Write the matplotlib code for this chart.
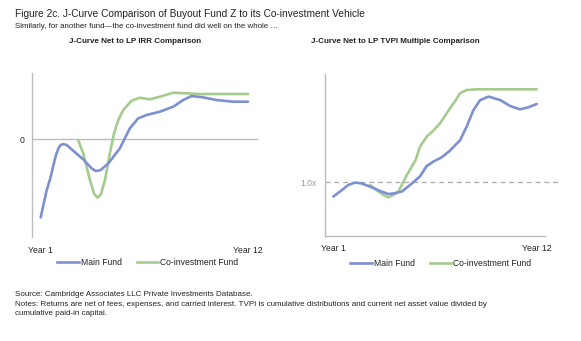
import matplotlib
matplotlib.use("Agg")
import matplotlib.pyplot as plt
from matplotlib.lines import Line2D

plt.rcParams['font.family'] = ['Liberation Sans', 'DejaVu Sans']

# ---- data ----
irr_main_x = [1.00, 1.32, 1.50, 1.80, 1.94, 2.06, 2.20, 2.38, 2.64, 3.26, 3.70, 3.93, 4.18, 4.59,
              5.20, 5.73, 6.17, 6.61, 7.32, 8.03, 8.56, 9.00, 9.62, 10.32, 11.21, 12.00]
irr_main_y = [-2.35, -1.53, -1.20, -0.50, -0.28, -0.18, -0.15, -0.18, -0.31, -0.61, -0.88, -0.96, -0.93, -0.73,
              -0.28, 0.32, 0.62, 0.72, 0.82, 0.97, 1.17, 1.29, 1.25, 1.17, 1.12, 1.12]
irr_co_x = [3.00, 3.26, 3.61, 3.84, 4.02, 4.20, 4.41, 4.67, 4.89, 5.12, 5.38, 5.82, 6.26, 6.79,
            7.32, 8.03, 8.73, 9.44, 12.00]
irr_co_y = [-0.05, -0.43, -1.23, -1.65, -1.76, -1.65, -1.23, -0.43, 0.17, 0.57, 0.87, 1.15, 1.24, 1.19,
            1.27, 1.39, 1.37, 1.35, 1.35]

tvpi_main_x = [1.00, 1.36, 1.81, 2.17, 2.50, 2.98, 3.61, 3.98, 4.30, 4.70, 5.15, 5.69, 6.05, 6.41,
               6.86, 7.31, 7.85, 8.21, 8.57, 8.93, 9.39, 10.02, 10.56, 11.10, 11.55, 12.00]
tvpi_main_y = [0.857, 0.907, 0.973, 0.997, 0.990, 0.957, 0.907, 0.883, 0.890, 0.907, 0.973, 1.060, 1.163, 1.207,
               1.250, 1.317, 1.420, 1.557, 1.720, 1.820, 1.857, 1.823, 1.763, 1.730, 1.750, 1.783]
tvpi_co_x = [2.98, 3.34, 3.71, 3.98, 4.25, 4.52, 4.97, 5.45, 5.69, 6.05, 6.41, 6.77, 7.31,
             7.58, 7.85, 8.21, 8.75, 12.00]
tvpi_co_y = [0.973, 0.923, 0.873, 0.850, 0.873, 0.907, 1.070, 1.223, 1.357, 1.457, 1.517, 1.590, 1.740,
             1.810, 1.890, 1.923, 1.930, 1.930]

series_names = ["Main Fund", "Co-investment Fund"]
year_labels = ["Year 1", "Year 12"]
year_ticks = [1, 12]
irr_ref = 0
irr_ref_label = "0"
tvpi_ref = 1.0
tvpi_ref_label = "1.0x"

BLUE = "#7d90d2"
GREEN = "#a6cb8e"
GRAY = "#bdbdbd"
TXT = "#222222"

W, H = 581, 341
fig = plt.figure(figsize=(W / 100, H / 100), dpi=100)


def rect(x0, y0, x1, y1):
    return [x0 / W, 1 - y1 / H, (x1 - x0) / W, (y1 - y0) / H]


lw = 1.9
fs_small = 6.2
line_kw = dict(lw=lw, solid_joinstyle='round', solid_capstyle='round')

# ---- left chart ----
ax1 = fig.add_axes(rect(31.7, 72.7, 258, 236.7))
ax1.set_xlim(0.523, 12.53)
ax1.set_ylim(-2.93, 1.99)
ax1.axhline(irr_ref, color=GRAY, lw=1.0, zorder=1)
ax1.plot(irr_main_x, irr_main_y, color=BLUE, zorder=3, **line_kw)
ax1.plot(irr_co_x, irr_co_y, color=GREEN, zorder=2, **line_kw)
for s in ['top', 'right', 'bottom']:
    ax1.spines[s].set_visible(False)
ax1.spines['left'].set_color(GRAY)
ax1.spines['left'].set_linewidth(1.0)
ax1.set_yticks([irr_ref])
ax1.set_yticklabels([irr_ref_label], fontsize=fs_small, color=TXT)
ax1.tick_params(axis='y', length=0, pad=5)
ax1.set_xticks(year_ticks)
ax1.set_xticklabels(year_labels, fontsize=fs_small, color=TXT)
ax1.tick_params(axis='x', length=0, pad=7)

# ---- right chart ----
ax2 = fig.add_axes(rect(325, 74, 558, 235.7))
ax2.set_xlim(0.551, 13.15)
ax2.set_ylim(0.466, 2.083)
ax2.axhline(tvpi_ref, color="#aaaaaa", lw=0.9, ls=(0, (4, 3)), zorder=1)
ax2.plot(tvpi_main_x, tvpi_main_y, color=BLUE, zorder=3, **line_kw)
ax2.plot(tvpi_co_x, tvpi_co_y, color=GREEN, zorder=2, **line_kw)
for s in ['top', 'right']:
    ax2.spines[s].set_visible(False)
for s in ['left', 'bottom']:
    ax2.spines[s].set_color(GRAY)
    ax2.spines[s].set_linewidth(1.0)
ax2.spines['bottom'].set_bounds(0.551, 12.45)
ax2.set_yticks([tvpi_ref])
ax2.set_yticklabels([tvpi_ref_label], fontsize=fs_small, color="#999999")
ax2.tick_params(axis='y', length=0, pad=6)
ax2.set_xticks(year_ticks)
ax2.set_xticklabels(year_labels, fontsize=fs_small, color=TXT)
ax2.tick_params(axis='x', length=0, pad=6)

# ---- legends ----
handles = [Line2D([], [], color=BLUE, lw=lw), Line2D([], [], color=GREEN, lw=lw)]
for cx, cy in [(148, 262.5), (441, 263.5)]:
    fig.legend(handles, series_names, loc='center', bbox_to_anchor=(cx / W, 1 - cy / H),
               ncol=2, frameon=False, fontsize=fs_small, handlelength=2.5, handletextpad=0.25,
               columnspacing=1.7, labelcolor=TXT)

# ---- titles / notes ----
fig.text(15 / W, 1 - 14 / H, "Figure 2c. J-Curve Comparison of Buyout Fund Z to its Co-investment Vehicle",
         fontsize=7.3, color=TXT, va='center', ha='left')
fig.text(15 / W, 1 - 26.5 / H, "Similarly, for another fund\u2014the co-investment fund did well on the whole \u2026",
         fontsize=5.7, color=TXT, va='center', ha='left')
fig.text(135 / W, 1 - 41.5 / H, "J-Curve Net to LP IRR Comparison", fontsize=5.8, fontweight='bold',
         color=TXT, va='center', ha='center')
fig.text(395 / W, 1 - 41.5 / H, "J-Curve Net to LP TVPI Multiple Comparison", fontsize=5.8, fontweight='bold',
         color=TXT, va='center', ha='center')
fig.text(15 / W, 1 - 294.3 / H, "Source: Cambridge Associates LLC Private Investments Database.",
         fontsize=5.75, color=TXT, va='center', ha='left')
fig.text(15 / W, 1 - 304.3 / H,
         "Notes: Returns are net of fees, expenses, and carried interest. TVPI is cumulative distributions and current net asset value divided by",
         fontsize=5.75, color=TXT, va='center', ha='left')
fig.text(15 / W, 1 - 313.8 / H, "cumulative paid-in capital.",
         fontsize=5.75, color=TXT, va='center', ha='left')

fig.savefig("out.png", dpi=100)
